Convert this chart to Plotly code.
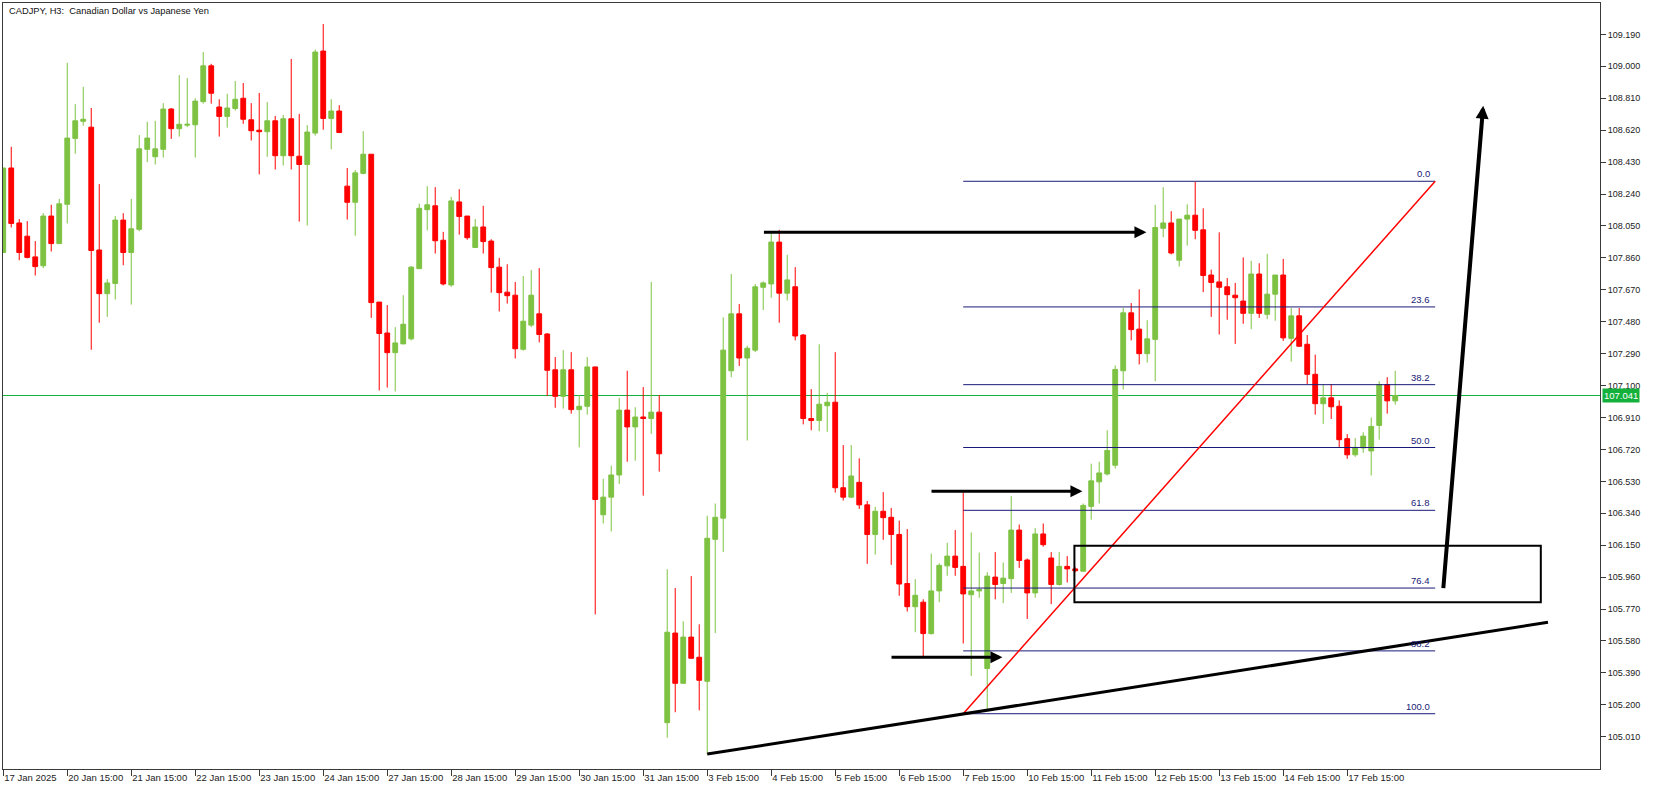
import plotly.graph_objects as go

# ---------------- data (H3 bars, CADJPY) ----------------
opens = [107.892,108.395,108.068,107.989,107.866,107.813,108.109,107.945,108.179,108.571,
         108.673,108.638,107.907,107.647,107.708,108.085,107.892,108.030,108.506,108.462,
         108.506,108.746,108.629,108.650,108.652,108.790,109.003,108.758,108.702,108.749,
         108.810,108.682,108.620,108.611,108.676,108.468,108.688,108.465,108.416,108.603,
         109.091,108.690,108.734,108.287,108.191,108.363,108.477,107.597,107.413,107.296,
         107.348,107.378,107.796,108.147,108.170,107.965,107.699,108.193,108.109,107.922,
         108.044,107.960,107.805,107.656,107.638,107.316,107.460,107.527,107.407,107.194,
         107.036,107.194,106.957,106.977,107.211,106.331,106.436,106.568,106.954,106.854,
         106.913,106.904,106.942,105.094,105.627,105.328,105.603,105.483,105.340,106.185,
         106.311,107.188,107.527,107.264,107.311,107.685,107.705,107.954,107.650,107.688,
         107.401,106.904,106.892,106.980,107.001,106.492,106.436,106.524,106.390,106.214,
         106.352,106.316,106.214,105.922,105.784,105.811,105.624,105.878,106.027,106.085,
         106.024,105.855,105.878,105.416,105.960,105.922,105.951,106.240,106.062,105.866,
         106.217,106.074,105.916,106.024,106.009,105.995,106.381,106.527,106.574,106.626,
         107.188,107.533,107.436,107.290,107.375,108.036,108.068,107.846,108.091,108.114,
         108.027,107.758,107.717,107.688,107.638,107.603,107.530,107.764,107.524,107.644,
         107.758,107.381,107.515,107.346,107.167,106.992,107.027,106.977,106.784,106.688,
         106.729,106.711,106.863,107.106,107.009]
highs = [108.395,108.521,108.091,108.079,107.960,108.126,108.176,108.211,109.021,108.775,
         108.878,108.752,108.299,107.734,108.109,108.126,108.211,108.591,108.670,108.676,
         108.781,108.752,108.948,108.930,108.810,109.085,109.015,108.804,108.837,108.913,
         108.901,108.781,108.842,108.787,108.705,108.711,109.044,108.717,108.650,109.100,
         109.252,108.804,108.769,108.395,108.383,108.614,108.477,107.597,107.579,107.448,
         107.638,107.811,108.182,108.287,108.281,108.015,108.223,108.269,108.109,108.091,
         108.170,107.971,107.860,107.822,107.717,107.752,107.787,107.799,107.413,107.270,
         107.311,107.299,107.044,107.270,107.211,106.545,106.623,107.027,107.188,106.971,
         107.091,107.717,107.044,106.007,105.895,105.697,105.966,105.679,106.325,106.398,
         107.506,107.764,107.585,107.337,107.705,107.720,108.006,108.027,107.878,107.805,
         107.407,107.079,107.346,107.056,107.299,106.746,106.746,106.667,106.413,106.378,
         106.466,106.372,106.296,106.246,105.948,105.828,106.100,106.042,106.164,106.240,
         106.463,106.226,106.106,105.989,106.109,106.047,106.442,106.273,106.071,106.252,
         106.279,106.109,106.109,106.085,106.018,106.398,106.635,106.647,106.834,107.220,
         107.562,107.591,107.673,107.489,108.176,108.281,108.138,108.091,108.179,108.313,
         108.155,107.790,108.012,107.740,107.711,107.863,107.843,107.828,107.884,107.758,
         107.854,107.562,107.562,107.401,107.284,107.109,107.109,107.012,106.811,106.787,
         106.822,106.910,107.126,107.150,107.188]
lows = [107.892,108.041,107.846,107.857,107.755,107.799,107.898,107.945,108.065,108.480,
        108.647,107.313,107.474,107.509,107.612,107.816,107.582,108.018,108.430,108.416,
        108.457,108.568,108.582,108.638,108.457,108.778,108.778,108.582,108.635,108.737,
        108.658,108.559,108.357,108.462,108.386,108.410,108.386,108.076,108.053,108.588,
        108.623,108.506,108.606,108.088,107.992,108.357,107.503,107.071,107.088,107.065,
        107.348,107.369,107.796,108.024,107.886,107.696,107.688,107.998,107.968,107.922,
        107.886,107.653,107.541,107.588,107.261,107.308,107.448,107.357,107.039,106.968,
        106.963,106.933,106.732,106.927,105.738,106.279,106.232,106.515,106.647,106.653,
        106.445,106.813,106.588,105.004,105.156,105.328,105.477,105.167,104.907,105.627,
        106.109,107.150,107.217,106.773,107.299,107.550,107.623,107.474,107.606,107.369,
        106.869,106.834,106.828,106.825,106.463,106.416,106.430,106.366,106.039,106.094,
        106.182,106.033,105.849,105.755,105.632,105.489,105.618,105.811,105.968,105.968,
        105.565,105.372,105.837,105.170,105.828,105.805,105.866,106.015,105.711,105.837,
        106.141,105.799,105.910,105.928,105.989,105.995,106.302,106.398,106.565,106.606,
        107.077,107.369,107.226,107.237,107.126,107.983,107.881,107.808,107.933,107.971,
        107.656,107.509,107.404,107.492,107.348,107.468,107.436,107.503,107.495,107.486,
        107.366,107.243,107.331,107.109,106.927,106.872,106.901,106.732,106.664,106.676,
        106.700,106.565,106.778,106.933,106.986]
closes = [108.395,108.065,107.892,107.863,107.808,108.109,107.945,108.182,108.573,108.676,
          108.685,107.904,107.647,107.711,108.085,107.892,108.033,108.509,108.573,108.509,
          108.746,108.629,108.655,108.655,108.793,109.003,108.840,108.702,108.752,108.804,
          108.685,108.617,108.611,108.676,108.468,108.688,108.468,108.416,108.609,109.085,
          108.690,108.734,108.606,108.191,108.366,108.477,107.594,107.410,107.296,107.354,
          107.465,107.805,108.155,108.176,107.962,107.705,108.199,108.106,107.980,108.044,
          107.957,107.802,107.653,107.635,107.319,107.483,107.638,107.404,107.191,107.036,
          107.194,106.957,106.977,107.211,106.422,106.436,106.568,106.954,106.854,106.913,
          106.904,106.942,106.694,105.632,105.328,105.603,105.477,105.346,106.191,106.316,
          107.311,107.527,107.264,107.322,107.688,107.711,107.954,107.650,107.729,107.395,
          106.904,106.892,106.989,107.001,106.492,106.436,106.562,106.390,106.214,106.352,
          106.314,106.214,105.919,105.784,105.852,105.624,105.878,106.030,106.085,106.018,
          105.860,105.878,105.887,105.966,105.916,105.954,106.240,106.059,105.866,106.217,
          106.153,105.916,106.024,106.009,105.998,106.387,106.533,106.580,106.714,107.196,
          107.533,107.433,107.290,107.378,108.041,108.068,107.889,108.091,108.114,108.024,
          107.755,107.714,107.685,107.641,107.623,107.530,107.764,107.530,107.644,107.758,
          107.384,107.515,107.334,107.167,106.992,107.027,106.974,106.778,106.688,106.732,
          106.799,106.857,107.106,107.009,107.041]

date_tick_bars = [0, 8, 16, 24, 32, 40, 48, 56, 64, 72, 80, 88, 96, 104, 112, 120,
                  128, 136, 144, 152, 160, 168]
date_tick_labels = ["17 Jan 2025", "20 Jan 15:00", "21 Jan 15:00", "22 Jan 15:00",
                    "23 Jan 15:00", "24 Jan 15:00", "27 Jan 15:00", "28 Jan 15:00",
                    "29 Jan 15:00", "30 Jan 15:00", "31 Jan 15:00", "3 Feb 15:00",
                    "4 Feb 15:00", "5 Feb 15:00", "6 Feb 15:00", "7 Feb 15:00",
                    "10 Feb 15:00", "11 Feb 15:00", "12 Feb 15:00", "13 Feb 15:00",
                    "14 Feb 15:00", "17 Feb 15:00"]
price_ticks = [109.190, 109.000, 108.810, 108.620, 108.430, 108.240, 108.050, 107.860,
               107.670, 107.480, 107.290, 107.100, 106.910, 106.720, 106.530, 106.340,
               106.150, 105.960, 105.770, 105.580, 105.390, 105.200, 105.010]
bid_price = 107.041

# drawn objects
fib_bars = [120, 179]
fib_high = 108.316
fib_low = 105.147
fib_levels = [0.0, 23.6, 38.2, 50.0, 61.8, 76.4, 88.2, 100.0]

support_bars = [88, 193.1]
support_prices = [104.907, 105.691]

zone_bars = [133.9, 192.2]
zone_prices = [105.810, 106.146]

arrow_start_bars = [94.9, 115.85, 110.85]
arrow_end_bars = [142.9, 134.9, 124.9]
arrow_prices = [108.012, 106.471, 105.483]

up_arrow_bars = [180, 185]
up_arrow_prices = [105.886, 108.766]

# ---------------- styles ----------------
GREEN = "#7ec243"
RED = "#ff0000"
BID = "#14b03c"
NAVY = "#1a1a78"
AX = "#3a3a3a"
FONT = "Liberation Sans, Arial, sans-serif"

bars = list(range(len(opens)))

fig = go.Figure(go.Candlestick(
    x=bars, open=opens, high=highs, low=lows, close=closes,
    increasing=dict(line=dict(color=GREEN, width=1), fillcolor=GREEN),
    decreasing=dict(line=dict(color=RED, width=1), fillcolor=RED),
    whiskerwidth=0, showlegend=False, hoverinfo="skip",
))

shapes = []
annotations = []

# bid line
shapes.append(dict(type="line", xref="paper", x0=0, x1=1, yref="y", y0=bid_price, y1=bid_price,
                   line=dict(color=BID, width=1), layer="below"))

# fibonacci levels
for lvl in fib_levels:
    yv = fib_high - (fib_high - fib_low) * lvl / 100.0
    shapes.append(dict(type="line", x0=fib_bars[0], x1=fib_bars[1], y0=yv, y1=yv,
                       line=dict(color=NAVY, width=1)))
    annotations.append(dict(x=fib_bars[1], y=yv, text=f"{lvl:.1f}", showarrow=False,
                            xanchor="right", yanchor="bottom", xshift=-3, yshift=0,
                            font=dict(family=FONT, size=9.5, color=NAVY)))

# fib diagonal
shapes.append(dict(type="line", x0=fib_bars[0], y0=fib_low, x1=fib_bars[1], y1=fib_high,
                   line=dict(color=RED, width=1.5)))

# support trendline
shapes.append(dict(type="line", x0=support_bars[0], y0=support_prices[0],
                   x1=support_bars[1], y1=support_prices[1],
                   line=dict(color="black", width=3)))

# zone rectangle
shapes.append(dict(type="rect", x0=zone_bars[0], x1=zone_bars[1],
                   y0=zone_prices[0], y1=zone_prices[1],
                   line=dict(color="black", width=2), fillcolor="rgba(0,0,0,0)"))

# horizontal arrows
for xs, xe, pv in zip(arrow_start_bars, arrow_end_bars, arrow_prices):
    annotations.append(dict(x=xe, y=pv, ax=xs, ay=pv, axref="x", ayref="y", xref="x", yref="y",
                            text="", showarrow=True, arrowhead=2, arrowsize=0.8,
                            arrowwidth=3, arrowcolor="black", standoff=0))

# big up arrow
annotations.append(dict(x=up_arrow_bars[1], y=up_arrow_prices[1], ax=up_arrow_bars[0],
                        ay=up_arrow_prices[0], axref="x", ayref="y", xref="x", yref="y",
                        text="", showarrow=True, arrowhead=2, arrowsize=0.65,
                        arrowwidth=4, arrowcolor="black", standoff=0))

# title
annotations.append(dict(xref="paper", yref="paper", x=0, y=1, xanchor="left", yanchor="top",
                        xshift=4, yshift=-1, showarrow=False,
                        text="CADJPY, H3:\u00a0 Canadian Dollar vs Japanese Yen",
                        font=dict(family=FONT, size=9.3, color="#111")))

# bid label
annotations.append(dict(xref="paper", yref="y", x=1, y=bid_price, xanchor="left", yanchor="middle",
                        xshift=2, showarrow=False, text=f"{bid_price:.3f}",
                        bgcolor=BID, borderpad=1,
                        font=dict(family=FONT, size=9.5, color="white")))

fig.update_layout(
    width=1653, height=790,
    margin=dict(l=3, r=53, t=3, b=21, autoexpand=False),
    paper_bgcolor="white", plot_bgcolor="white",
    shapes=shapes, annotations=annotations,
    boxgap=0.4, boxgroupgap=0,
    showlegend=False,
    xaxis=dict(range=[-0.03, 199.6], tickmode="array", tickvals=date_tick_bars,
               ticktext=date_tick_labels, ticks="outside", ticklen=6, tickcolor=AX,
               ticklabelposition="outside right", tickangle=0, automargin=False,
               tickfont=dict(family=FONT, size=9.5, color="#222"),
               showline=True, mirror=True, linecolor=AX, linewidth=1,
               showgrid=False, zeroline=False, rangeslider=dict(visible=False)),
    yaxis=dict(side="right", range=[104.818, 109.377], tickmode="array",
               tickvals=price_ticks, ticktext=[f"{v:.3f}" for v in price_ticks],
               ticks="outside", ticklen=5, tickcolor=AX, automargin=False,
               ticklabelstandoff=0,
               tickfont=dict(family=FONT, size=9, color="#222"),
               showline=True, mirror=True, linecolor=AX, linewidth=1,
               showgrid=False, zeroline=False),
)

fig.write_html("out.html", config={"displayModeBar": False},
               post_script="document.body.style.margin='0';document.body.style.overflow='hidden';")
